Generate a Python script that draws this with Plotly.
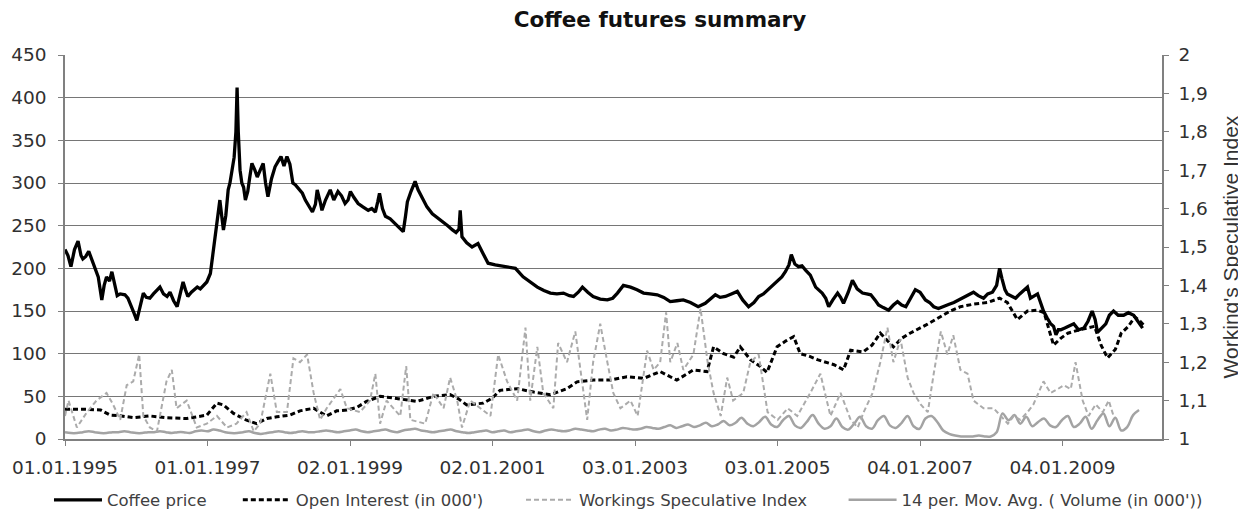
import pandas as pd
import plotly.graph_objects as go

# ---------------- data (x = months since 01.01.1995) ----------------
price_month = [0, 0.5, 1, 1.6, 2.2, 2.7, 3, 3.5, 4, 4.5, 5, 5.6, 6.2, 6.6, 7, 7.5, 7.9, 8.3, 8.8, 9.3,
               10.1, 10.6, 11, 11.6, 12.1, 12.6, 13.2, 13.7, 14.3, 14.9, 15.4, 16, 16.6, 17.2, 17.7, 18.3,
               18.9, 19.4, 19.9, 20.3, 20.7, 21.3, 22.3, 22.8, 23.3, 23.9, 24.5, 24.9, 25.3, 25.6, 25.9,
               26.1, 26.4, 26.7, 27.1, 27.5, 27.8, 28.2, 28.5, 28.8, 29, 29.2, 29.5, 29.8, 30.1, 30.4, 30.8,
               31.1, 31.5, 32, 32.4, 32.9, 33.4, 33.8, 34.2, 34.8, 35.4, 35.9, 36.4, 36.9, 37.4, 37.9, 38.4,
               38.8, 39.5, 40, 40.5, 41.1, 41.7, 42.2, 42.5, 43, 43.3, 43.9, 44.7, 45.3, 46, 46.6, 47.2,
               47.7, 48.1, 48.7, 49.4, 50.2, 51.1, 51.7, 52.3, 52.7, 53, 53.5, 54, 54.8, 55.6, 56.3, 57,
               57.4, 57.7, 58.3, 59, 59.5, 60.2, 61, 61.9, 62.7, 63.6, 64.5, 65.3, 65.9, 66.4, 66.6, 66.9,
               67.7, 68.6, 69.6, 70.4, 71.3, 72.5, 73.9, 75.9, 77.2, 78.4, 79.6, 80.7, 81.8, 82.9, 84,
               85, 85.7, 86.5, 87.2, 88.1, 89, 90.2, 91.4, 92.3, 93.1, 94.1, 95.3, 96.4, 97.5, 98.6, 99.8,
               100.9, 102, 103.1, 104.2, 105.4, 106.7, 107.9, 108.8, 109.6, 110.4, 111.3, 112.3, 113.3,
               114.2, 115.2, 116.1, 116.9, 117.7, 118.5, 119.4, 120.2, 120.8, 121.4, 122, 122.4, 123,
               123.6, 124.2, 124.8, 125.6, 126.5, 127.1, 127.6, 128.2, 128.7, 129.4, 130.2, 130.7, 131.2,
               132, 132.7, 133.5, 134.4, 135.1, 135.8, 136.5, 137.1, 137.9, 138.8, 139.6, 140.3, 141,
               141.7, 142.5, 143.3, 144.1, 145, 145.7, 146.4, 147.2, 148.1, 149, 149.8, 150.6, 151.4,
               152.2, 153.1, 153.9, 154.8, 155.5, 156.3, 157, 157.5, 157.9, 158.4, 158.8, 159.5, 160.2,
               160.9, 161.6, 162.2, 162.7, 163.3, 163.9, 164.4, 164.9, 165.5, 166.1, 166.6, 167, 167.4,
               167.8, 168.5, 169.2, 170, 170.8, 171.7, 172.4, 173.1, 173.6, 174, 174.7, 175.4, 176,
               176.7, 177.5, 178.4, 179.2, 180.1, 180.8, 181.6]
price_values = [222, 215, 202, 222, 232, 215, 211, 214, 220, 210, 202, 190, 163, 180, 190, 185, 196, 182, 168, 170,
                169, 165, 159, 148, 139, 155, 171, 166, 165, 170, 174, 178, 170, 167, 172, 162,
                155, 168, 184, 175, 167, 172, 178, 176, 180, 184, 194, 215, 237, 252, 265,
                280, 262, 245, 262, 292, 300, 315, 330, 360, 412, 360, 315, 300, 295, 280, 290,
                305, 323, 315, 307, 315, 323, 300, 284, 305, 319, 325, 331, 320, 331, 322, 300,
                298, 292, 288, 280, 272, 266, 275, 292, 278, 268, 280, 292, 280, 290, 285, 276,
                280, 290, 283, 276, 272, 268, 270, 266, 278, 288, 270, 261, 258, 253, 248, 243,
                262, 278, 290, 302, 292, 282, 272, 264, 260, 255, 250, 245, 242, 246, 268, 237,
                230, 225, 229, 218, 206, 204, 202, 200, 190, 184, 178, 174, 171, 170, 171,
                168, 167, 172, 178, 172, 167, 164, 163, 165, 171, 180, 178, 175, 171, 170, 169,
                166, 161, 162, 163, 160, 155, 159, 165, 169, 166, 167, 170, 173,
                163, 155, 160, 167, 170, 175, 180, 186, 190, 196, 204, 216, 205,
                202, 203, 198, 192, 178, 174, 171, 165, 155, 163, 171, 166, 159,
                172, 186, 176, 171, 170, 169, 163, 157, 154, 151, 157, 161, 157,
                155, 165, 175, 172, 163, 160, 155, 153, 155, 158, 160, 163, 165,
                168, 172, 168, 165, 170, 172, 180, 200, 188, 175, 170, 168, 165,
                170, 175, 178, 165, 168, 170, 160, 150, 142, 135, 132, 122, 128,
                128, 130, 132, 135, 128, 130, 138, 150, 140, 125, 130, 135, 145,
                150, 145, 145, 148, 145, 138, 130]

oi_month = [0, 3, 6, 7.6, 9.5, 11.5, 14.3, 17, 20.5, 23.9, 25.6, 26.7, 28.4, 30.6, 32.3, 34, 35.7, 37.9,
            39.6, 41.9, 44.1, 45.8, 47.5, 49.2, 50.8, 53.1, 55.4, 57.3, 59.3, 62.1, 64.9, 66.3, 67.7,
            70.5, 72, 73.3, 76.2, 79, 81.8, 84.6, 86.3, 89.1, 91.9, 94.7, 97.5, 100.3, 103.1, 105.9,
            108.2, 109.3, 111, 112.7, 113.8, 115.5, 117.2, 118.3, 120, 121.5, 122.8, 123.9, 125.4,
            126.8, 128.2, 129.6, 131.2, 132.4, 134.5, 136, 137.4, 139.6, 141, 142.4, 145.2, 147.5,
            149.2, 150.9, 153.1, 155.5, 157.5, 158.8, 160.5, 162.2, 163.9, 165, 166.6, 167.8, 169,
            171, 173.5, 174.6, 175.7, 177, 178, 179.2, 180.3, 181.2, 182]
oi_values = [35, 35, 34, 28, 27, 25, 27, 25, 24, 28, 42, 40, 30, 22, 18, 24, 26, 28,
             33, 36, 27, 33, 34, 37, 44, 50, 48, 46, 44, 50, 52, 47, 40,
             42, 48, 57, 59, 55, 52, 59, 67, 69, 69, 73, 71, 79, 69, 81,
             79, 108, 100, 96, 108, 93, 85, 78, 108, 115, 120, 100, 97,
             93, 90, 87, 81, 104, 102, 110, 124, 108, 118, 124, 134, 143,
             150, 155, 158, 160, 165, 160, 140, 150, 151, 148, 110, 118, 124,
             128, 132, 110, 95, 105, 124, 132, 143, 138, 132]

wsi_month = [0, 0.6, 2, 3.7, 5.3, 7, 8.1, 9.3, 10.4, 11.5, 12.5, 13.2, 14.3, 15.5, 17.1, 18, 18.8, 20.5,
             22.2, 23.9, 25.6, 27.3, 28.9, 30.6, 31.8, 32.9, 34.6, 35.7, 37.4, 38.5, 39.6, 40.8, 41.9,
             43, 44.1, 46.4, 47.5, 49.7, 51.4, 52.3, 53.1, 54.2, 56.5, 57.5, 58.2, 60.7, 62.1, 63.8,
             64.9, 66.1, 66.9, 68.3, 70, 71.7, 73, 74.5, 76.2, 77.6, 78.4, 79.6, 80.6, 82.3, 83.1,
             84.6, 86, 87.4, 88, 89, 90.2, 91.4, 92.4, 93.6, 95.3, 96.5, 98.1, 99.2, 100.3, 101.3,
             102, 103.2, 104.2, 105.9, 107.1, 108.3, 109.3, 110.5, 111.6, 112.6, 114.3, 115.5, 116.9,
             118.4, 120.1, 121.8, 123.4, 125.6, 127.3, 129, 130.7, 132.4, 133.6, 134.6, 136.1, 137.4,
             138.6, 139.6, 140.8, 142, 143, 144.2, 145.4, 146.4, 147.6, 148.7, 149.7, 150.9, 152.1,
             153.1, 154.8, 156.5, 157.7, 158.9, 159.9, 161, 162.2, 163.2, 164.9, 166.1, 167.3, 168.3,
             169.5, 170.3, 171.5, 172.5, 173.7, 174.9, 175.9, 176.7]
wsi_values = [1.06, 1.10, 1.03, 1.07, 1.10, 1.12, 1.09, 1.05, 1.14, 1.15, 1.22, 1.06, 1.03, 1.02, 1.15, 1.18, 1.08, 1.10,
              1.03, 1.04, 1.06, 1.03, 1.04, 1.07, 1.02, 1.04, 1.17, 1.07, 1.07, 1.21, 1.20, 1.22, 1.12,
              1.05, 1.08, 1.13, 1.08, 1.07, 1.10, 1.17, 1.04, 1.10, 1.06, 1.19, 1.05, 1.04, 1.12, 1.08,
              1.16, 1.10, 1.03, 1.10, 1.08, 1.06, 1.22, 1.15, 1.10, 1.29, 1.10, 1.24, 1.12, 1.08, 1.25,
              1.20, 1.28, 1.12, 1.05, 1.20, 1.30, 1.20, 1.12, 1.08, 1.10, 1.06, 1.23, 1.18, 1.20, 1.33,
              1.20, 1.25, 1.18, 1.22, 1.34, 1.20, 1.12, 1.06, 1.16, 1.10, 1.12, 1.20, 1.22,
              1.07, 1.05, 1.08, 1.06, 1.12, 1.17, 1.06, 1.12, 1.05, 1.03, 1.07, 1.12, 1.20,
              1.29, 1.20, 1.26, 1.16, 1.12, 1.09, 1.07, 1.17, 1.28, 1.22, 1.27, 1.18, 1.17,
              1.10, 1.08, 1.08, 1.06, 1.04, 1.06, 1.05, 1.07, 1.09, 1.15, 1.12, 1.13, 1.14,
              1.13, 1.20, 1.10, 1.06, 1.09, 1.07, 1.10, 1.06]

vol_values = [8, 7, 7, 8, 9, 8, 7, 7, 8, 8, 9, 8, 7,
              7, 8, 8, 9, 8, 7, 8, 8, 7, 9, 10, 9,
              11, 10, 8, 7, 7, 8, 9, 7, 6, 7, 8, 9,
              8, 7, 8, 9, 8, 8, 9, 10, 9, 8, 9, 10,
              11, 9, 8, 9, 10, 11, 9, 8, 10, 11, 12, 10,
              9, 8, 9, 10, 11, 9, 8, 7, 8, 9, 10, 8,
              9, 10, 8, 9, 10, 11, 9, 8, 10, 11, 10, 9,
              10, 12, 11, 10, 9, 11, 12, 10, 11, 13, 12, 11,
              12, 14, 13, 12, 14, 16, 13, 15, 17, 14, 16, 19,
              15, 17, 21, 16, 19, 25, 18, 15, 20, 26, 17, 14,
              22, 27, 16, 13, 20, 28, 18, 12, 15, 24, 14, 11,
              18, 26, 15, 12, 22, 27, 16, 13, 19, 27, 15, 12,
              24, 27, 20, 10, 6, 4, 3, 3, 3, 4, 3, 3,
              8, 30, 22, 28, 18, 26, 15, 20, 24, 16, 14, 22,
              27, 14, 18, 26, 12, 22, 30, 15, 25, 10, 14, 28, 34]
vol_month = list(range(len(vol_values)))

series_names = ["Coffee price", "Open Interest (in 000')", "Workings Speculative Index",
                "14 per. Mov. Avg. ( Volume (in 000'))"]
x_tick_dates = ["1995-01-01", "1997-01-01", "1999-01-02", "2001-01-02",
                "2003-01-03", "2005-01-03", "2007-01-04", "2009-01-04"]
x_tick_labels = ["01.01.1995", "01.01.1997", "02.01.1999", "02.01.2001",
                 "03.01.2003", "03.01.2005", "04.01.2007", "04.01.2009"]
left_ticks = [0, 50, 100, 150, 200, 250, 300, 350, 400, 450]
right_ticks = [1, 1.1, 1.2, 1.3, 1.4, 1.5, 1.6, 1.7, 1.8, 1.9, 2]
right_tick_labels = ["1", "1,1", "1,2", "1,3", "1,4", "1,5", "1,6", "1,7", "1,8", "1,9", "2"]

START = pd.Timestamp("1995-01-01")
NBSP = "\u00a0"

# the page body has an 8px default margin, so the figure is sized 8px smaller
FIG_W, FIG_H = 1238, 508


def to_dates(months):
    return [START + pd.Timedelta(days=m * 30.4375) for m in months]


# trailing non-breaking spaces only widen the gap between legend entries
legend_pad = [5, 0, 6, 0]
legend_names = [n + NBSP * p for n, p in zip(series_names, legend_pad)]

fig = go.Figure()
fig.add_trace(go.Scatter(x=to_dates(price_month), y=price_values, name=legend_names[0],
                         mode="lines", line=dict(color="#000000", width=3.3), legend="legend"))
fig.add_trace(go.Scatter(x=to_dates(oi_month), y=oi_values, name=legend_names[1],
                         mode="lines", line=dict(color="#000000", width=3, dash="5px,3px"),
                         legend="legend"))
fig.add_trace(go.Scatter(x=to_dates(wsi_month), y=wsi_values, name=legend_names[2],
                         mode="lines", yaxis="y2",
                         line=dict(color="#ababab", width=2, dash="5px,3px"), legend="legend2"))
fig.add_trace(go.Scatter(x=to_dates(vol_month), y=vol_values, name=legend_names[3],
                         mode="lines", line=dict(color="#a3a3a3", width=2.5, shape="spline"),
                         legend="legend2"))

tick_font = dict(family="DejaVu Sans", size=18.5, color="#303030")
legend_font = dict(family="DejaVu Sans", size=16.5, color="#404040")

fig.update_layout(
    width=FIG_W, height=FIG_H,
    margin=dict(l=57, r=84, t=47, b=77, autoexpand=False),
    paper_bgcolor="white", plot_bgcolor="white",
    title=dict(text="<b>Coffee futures summary</b>", x=652 / FIG_W, xref="container", xanchor="center",
               y=1 - 11 / FIG_H, yref="container", yanchor="middle",
               font=dict(family="DejaVu Sans", size=21.5, color="#111111")),
    xaxis=dict(type="date", range=["1995-01-01", "2010-05-29"], automargin=False,
               tickvals=x_tick_dates, ticktext=x_tick_labels, tickfont=tick_font,
               showgrid=False, showline=True, linecolor="#808080", linewidth=1.5,
               ticks="outside", ticklen=5, tickcolor="#808080", ticklabelstandoff=6,
               zeroline=False),
    yaxis=dict(range=[0, 450], tickvals=left_ticks, tickfont=tick_font, automargin=False,
               showgrid=True, gridcolor="#767676", gridwidth=1.4,
               showline=True, linecolor="#808080", linewidth=1.5,
               ticks="outside", ticklen=5, tickcolor="#808080", ticklabelstandoff=8,
               zeroline=False),
    yaxis2=dict(range=[1, 2], overlaying="y", side="right", tickvals=right_ticks, automargin=False,
                ticktext=right_tick_labels, tickfont=tick_font, showgrid=False,
                showline=True, linecolor="#808080", linewidth=1.5,
                ticks="outside", ticklen=5, tickcolor="#808080", ticklabelstandoff=6,
                zeroline=False,
                title=dict(text="Working's Speculative Index", standoff=16,
                           font=dict(family="Liberation Sans", size=21, color="#333333"))),
    legend=dict(orientation="h", x=-0.0146, xanchor="left", y=-0.159, yanchor="middle",
                font=legend_font, itemwidth=48, bgcolor="rgba(0,0,0,0)"),
    legend2=dict(orientation="h", x=(513 - 57) / 1097, xanchor="left", y=-0.159, yanchor="middle",
                 font=legend_font, itemwidth=48, bgcolor="rgba(0,0,0,0)"),
    showlegend=True,
)

fig.write_html("out.html")
